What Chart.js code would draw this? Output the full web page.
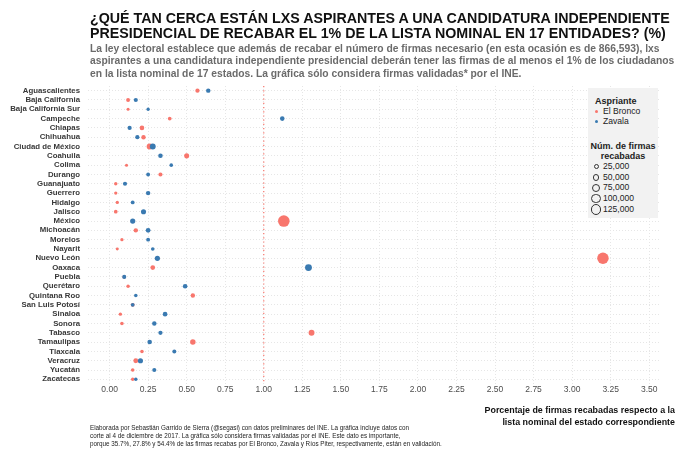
<!DOCTYPE html>
<html>
<head>
<meta charset="utf-8">
<script src="https://cdn.jsdelivr.net/npm/chart.js@4"></script>
<style>
  body { margin: 0; background: #fff; font-family: "Liberation Sans", Arial, sans-serif; }
  #wrap { position: relative; width: 680px; height: 453px; overflow: hidden; }
  canvas { position: absolute; left: 0; top: 0; }
  .txt { position: absolute; white-space: nowrap; }
  #titulo { left: 90px; top: 11px; font-size: 14.25px; font-weight: bold; line-height: 15px; color: #111; }
  #sub { left: 90px; top: 43px; font-size: 10.3px; font-weight: bold; line-height: 12.3px; color: #6b6b6b; }
  #xtit { right: 5px; top: 404px; font-size: 8.9px; font-weight: bold; line-height: 12px; color: #111; text-align: right; }
  #pie { left: 90px; top: 424px; font-size: 6.3px; line-height: 7.8px; color: #222; }
  #leyenda { left: 588px; top: 88px; width: 70px; height: 130px; background: #f2f2f2; font-size: 8.6px; color: #222; }
  .lt { font-weight: bold; font-size: 9px; }
  .dot { display: inline-block; width: 3px; height: 3px; border-radius: 50%; margin: 0 5px 1px 7px; }
  .circ { display: inline-block; border: 1px solid #333; border-radius: 50%; box-sizing: border-box; vertical-align: middle; }
  .crow { height: 10.7px; line-height: 10.7px; }
  .cbox { display: inline-block; width: 14px; text-align: center; margin-left: 1px; }
</style>
</head>
<body>
<div id="wrap">
  <canvas id="grafica" width="680" height="453"></canvas>
  <div class="txt" id="titulo">¿QUÉ TAN CERCA ESTÁN LXS ASPIRANTES A UNA CANDIDATURA INDEPENDIENTE<br>PRESIDENCIAL DE RECABAR EL 1% DE LA LISTA NOMINAL EN 17 ENTIDADES? (%)</div>
  <div class="txt" id="sub">La ley electoral establece que además de recabar el número de firmas necesario (en esta ocasión es de 866,593), lxs<br>aspirantes a una candidatura independiente presidencial deberán tener las firmas de al menos el 1% de los ciudadanos<br>en la lista nominal de 17 estados. La gráfica sólo considera firmas validadas* por el INE.</div>
  <div class="txt" id="xtit">Porcentaje de firmas recabadas respecto a la<br>lista nominal del estado correspondiente</div>
  <div class="txt" id="pie">Elaborada por Sebastián Garrido de Sierra (@segasi) con datos preliminares del INE. La gráfica incluye datos con<br>corte al 4 de diciembre de 2017. La gráfica sólo considera firmas validadas por el INE. Este dato es importante,<br>porque 35.7%, 27.8% y 54.4% de las firmas recabas por El Bronco, Zavala y Ríos Piter, respectivamente, están en validación.</div>
  <div class="txt" id="leyenda"></div>
</div>
<script>
// estados (eje y)
var estados = ["Aguascalientes","Baja California","Baja California Sur","Campeche","Chiapas","Chihuahua",
  "Ciudad de México","Coahuila","Colima","Durango","Guanajuato","Guerrero","Hidalgo","Jalisco","México",
  "Michoacán","Morelos","Nayarit","Nuevo León","Oaxaca","Puebla","Querétaro","Quintana Roo","San Luis Potosí",
  "Sinaloa","Sonora","Tabasco","Tamaulipas","Tlaxcala","Veracruz","Yucatán","Zacatecas"];

// % de la lista nominal
var pctBronco = [0.57,0.12,0.12,0.39,0.21,0.22,0.26,0.50,0.11,0.33,0.04,0.04,0.05,0.04,1.13,
  0.17,0.08,0.05,3.20,0.28,0.095,0.12,0.54,0.15,0.07,0.08,1.31,0.54,0.21,0.17,0.15,0.15];
var pctZavala = [0.64,0.17,0.25,1.12,0.13,0.18,0.28,0.33,0.40,0.25,0.10,0.25,0.15,0.22,0.15,
  0.25,0.25,0.28,0.31,1.29,0.095,0.49,0.17,0.15,0.36,0.29,0.33,0.26,0.42,0.20,0.29,0.17];

// firmas recabadas (miles)
var firmasBronco = [5.3,3.3,0.6,2.5,7.2,6.0,19.5,10.6,0.6,4.2,1.5,1.1,1.1,2.5,125,
  5.9,1.1,0.4,122,8.0,2.0,1.7,5.9,2.9,1.4,1.8,18,14,1.9,9.2,2.2,1.7];
var firmasZavala = [6.0,4.5,1.3,7.0,4.7,5.0,18,6.8,2.1,3.2,4.5,6.1,3.0,11,11.5,
  8.3,3.4,2.3,11.6,30,4.2,7.3,1.9,2.8,7.6,6.2,5.2,6.9,3.8,11.4,4.4,1.9];

var xTicks = [0,0.25,0.5,0.75,1,1.25,1.5,1.75,2,2.25,2.5,2.75,3,3.25,3.5];
var tamLeyenda = [25,50,75,100,125];

var rojo = '#F8766D', azul = '#3A7AB1';

function radio(miles) {
  return 1.2 + Math.sqrt(miles / 125) * 4.6;
}

function puntos(pct) {
  return estados.map(function(e, i) { return {x: pct[i], y: e}; });
}

// linea vertical en 1%
var lineaUno = {
  id: 'lineaUno',
  beforeDatasetsDraw: function(chart) {
    var c = chart.ctx, x = chart.scales.x.getPixelForValue(1), a = chart.chartArea;
    c.save();
    c.strokeStyle = rojo;
    c.lineWidth = 1.2;
    c.setLineDash([1.2, 3]);
    c.beginPath();
    c.moveTo(x, a.top);
    c.lineTo(x, a.bottom);
    c.stroke();
    c.restore();
  }
};

new Chart(document.getElementById('grafica'), {
  type: 'scatter',
  data: {
    datasets: [
      {
        label: 'Zavala',
        data: puntos(pctZavala),
        backgroundColor: azul,
        borderWidth: 0,
        pointRadius: function(ctx) { return radio(firmasZavala[ctx.dataIndex]); }
      },
      {
        label: 'El Bronco',
        data: puntos(pctBronco),
        backgroundColor: rojo,
        borderWidth: 0,
        pointRadius: function(ctx) { return radio(firmasBronco[ctx.dataIndex]); }
      }
    ]
  },
  options: {
    responsive: false,
    animation: false,
    layout: { padding: { left: 0, right: 20, top: 86, bottom: 55 } },
    plugins: { legend: { display: false }, tooltip: { enabled: false } },
    scales: {
      x: {
        type: 'linear',
        min: -0.14,
        max: 3.57,
        afterBuildTicks: function(s) { s.ticks = xTicks.map(function(v) { return {value: v}; }); },
        afterFit: function(s) { s.height = 14; },
        grid: { color: '#e6e6e6', lineWidth: 1, drawTicks: false },
        border: { display: false, dash: [1, 2] },
        ticks: {
          color: '#4d4d4d',
          padding: 1,
          font: { size: 8.5, family: "'Liberation Sans', Arial" },
          callback: function(v) { return v.toFixed(2); }
        }
      },
      y: {
        type: 'category',
        labels: estados,
        offset: true,
        afterFit: function(s) { s.width = 88; },
        grid: { color: '#e6e6e6', lineWidth: 1, drawTicks: false },
        border: { display: false, dash: [1, 2] },
        ticks: {
          color: '#383838',
          padding: 8,
          autoSkip: false,
          font: { size: 7.8, weight: 'bold', family: "'Liberation Sans', Arial" }
        }
      }
    }
  },
  plugins: [lineaUno]
});

// leyenda
var ley = '<div class="lt" style="margin:8px 0 1px 7px">Aspriante</div>' +
  '<div style="line-height:9.5px"><span class="dot" style="background:' + rojo + '"></span>El Bronco</div>' +
  '<div style="line-height:9.5px"><span class="dot" style="background:' + azul + '"></span>Zavala</div>' +
  '<div class="lt" style="text-align:center;margin-top:16px;line-height:9.5px">Núm. de firmas<br>recabadas</div>';
tamLeyenda.forEach(function(t) {
  var d = radio(t) * 2 - 1.5;
  ley += '<div class="crow"><span class="cbox"><span class="circ" style="width:' + d + 'px;height:' + d + 'px"></span></span>' +
    (t * 1000).toLocaleString('en-US') + '</div>';
});
document.getElementById('leyenda').innerHTML = ley;
</script>
</body>
</html>
